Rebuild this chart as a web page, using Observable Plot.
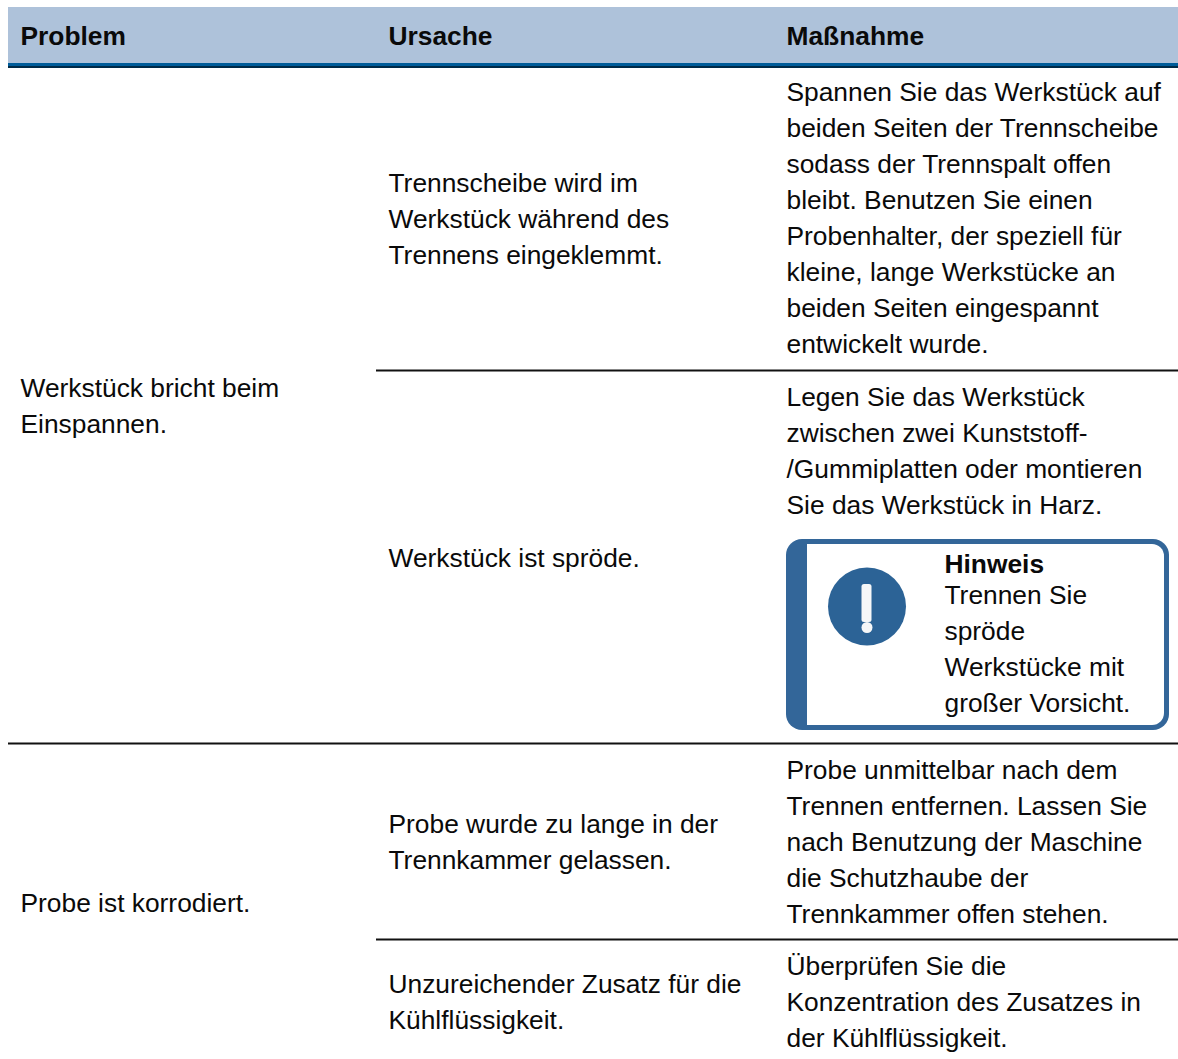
<!DOCTYPE html>
<html lang="de">
<head>
<meta charset="utf-8">
<script src="https://cdn.jsdelivr.net/npm/d3@7"></script>
<script src="https://cdn.jsdelivr.net/npm/@observablehq/plot@0.6"></script>
<style>html,body{margin:0;padding:0;background:#fff}svg{display:block}</style>
</head>
<body>
<div id="chart"></div>
<script>
// Table content
const headers = ["Problem", "Ursache", "Maßnahme"];
const problems = [
  ["Werkstück bricht beim", "Einspannen."],
  ["Probe ist korrodiert."]
];
const causes = [
  ["Trennscheibe wird im", "Werkstück während des", "Trennens eingeklemmt."],
  ["Werkstück ist spröde."],
  ["Probe wurde zu lange in der", "Trennkammer gelassen."],
  ["Unzureichender Zusatz für die", "Kühlflüssigkeit."]
];
const actions = [
  ["Spannen Sie das Werkstück auf", "beiden Seiten der Trennscheibe", "sodass der Trennspalt offen", "bleibt. Benutzen Sie einen", "Probenhalter, der speziell für", "kleine, lange Werkstücke an", "beiden Seiten eingespannt", "entwickelt wurde."],
  ["Legen Sie das Werkstück", "zwischen zwei Kunststoff-", "/Gummiplatten oder montieren", "Sie das Werkstück in Harz."],
  ["Probe unmittelbar nach dem", "Trennen entfernen. Lassen Sie", "nach Benutzung der Maschine", "die Schutzhaube der", "Trennkammer offen stehen."],
  ["Überprüfen Sie die", "Konzentration des Zusatzes in", "der Kühlflüssigkeit."]
];
const noteTitle = "Hinweis";
const noteLines = ["Trennen Sie", "spröde", "Werkstücke mit", "großer Vorsicht."];

// Layout of the table grid
const W = 1178, H = 1059, LH = 36, FS = 26.35;
const colX = [20, 388, 786];
const problemCenters = [406, 903];
const causeCenters = [219, 558, 842, 1002];
const actionCenters = [218.5, 451, 842, 1002];
const cellLines = (lines, x, cy) => lines.map((text, i) => ({text, x, y: cy + (i - (lines.length - 1) / 2) * LH}));

const body = [
  ...problems.flatMap((c, r) => cellLines(c, colX[0], problemCenters[r])),
  ...causes.flatMap((c, r) => cellLines(c, colX[1], causeCenters[r])),
  ...actions.flatMap((c, r) => cellLines(c, colX[2], actionCenters[r]))
];
const noteText = noteLines.map((text, i) => ({text, x: 944, y: 595 + i * LH}));
const rules = [
  {y: 370, x1: 376, x2: W},
  {y: 743, x1: 8, x2: W},
  {y: 939, x1: 376, x2: W}
];
const textOpts = {x: "x", y: "y", text: "text", textAnchor: "start", fill: "#0a0a0a",
  fontSize: FS, fontFamily: "Liberation Sans, Arial, sans-serif"};
const blue = "#336699";
const box = {x1: "x1", x2: "x2", y1: "y1", y2: "y2"};

const chart = Plot.plot({
  width: W, height: H, margin: 0,
  style: {background: "#fff"},
  x: {domain: [0, W], range: [0, W], axis: null},
  y: {domain: [0, H], range: [0, H], axis: null},
  marks: [
    // header band
    Plot.rect([{x1: 8, x2: W, y1: 7, y2: 63.5}], {...box, fill: "#aec2da"}),
    Plot.rect([{x1: 8, x2: W, y1: 63, y2: 66}], {...box, fill: "#005c99"}),
    Plot.rect([{x1: 8, x2: W, y1: 66, y2: 68}], {...box, fill: "#002a47"}),
    Plot.text(headers.map((text, i) => ({text, x: colX[i], y: 36})), {...textOpts, fontWeight: "bold"}),
    // row rules
    Plot.ruleY(rules, {y: "y", x1: "x1", x2: "x2", stroke: "#111", strokeWidth: 2}),
    // cell text
    Plot.text(body, textOpts),
    // note box
    Plot.rect([{x1: 786, x2: 1169, y1: 539, y2: 730}], {...box, fill: blue, rx: 16}),
    Plot.rect([{x1: 807, x2: 1164, y1: 544, y2: 725}], {...box, fill: "#fff", rx: 12}),
    Plot.rect([{x1: 807, x2: 900, y1: 544, y2: 725}], {...box, fill: "#fff"}),
    Plot.dot([{x: 866.5, y: 606}], {x: "x", y: "y", r: 39, fill: "#2c6396", stroke: "none"}),
    Plot.rect([{x1: 861.5, x2: 871.5, y1: 584, y2: 622}], {...box, fill: "#f6f7f8", rx: 2.5}),
    Plot.dot([{x: 866.5, y: 627}], {x: "x", y: "y", r: 5.5, fill: "#f6f7f8", stroke: "none"}),
    Plot.text([{text: noteTitle, x: 944, y: 564}], {...textOpts, fontWeight: "bold"}),
    Plot.text(noteText, textOpts)
  ]
});
document.getElementById("chart").append(chart);
</script>
</body>
</html>
